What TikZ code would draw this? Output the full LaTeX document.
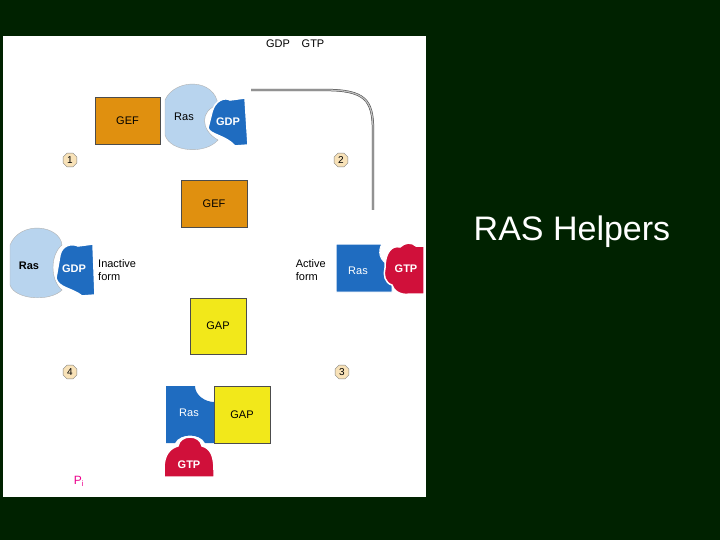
\documentclass[tikz,border=0pt]{standalone}
\usepackage{fontspec}
\setmainfont{Liberation Sans}
\usetikzlibrary{arrows.meta,shapes.geometric}
\definecolor{bg}{HTML}{002200}
\definecolor{gef}{HTML}{E0900F}
\definecolor{lblue}{HTML}{B8D4EE}
\definecolor{dblue}{HTML}{1F6CC0}
\definecolor{gtpred}{HTML}{D0103A}
\definecolor{gapy}{HTML}{F2E81A}
\definecolor{numc}{HTML}{F8E2B8}
\tikzset{
 path/.style={draw=black!75,double=black!25,line width=0.5pt,double distance=1.3pt},
 tip/.style={-{Triangle[open,length=7pt,width=7pt,fill=white]}},
 box/.style={draw=black!70,line width=0.8pt,minimum width=#1,inner sep=0pt,font=\fontsize{11}{11}\selectfont},
 num/.style={regular polygon,regular polygon sides=8,fill=numc,draw=black!50,minimum size=15pt,inner sep=0pt,font=\fontsize{10}{10}\selectfont},
 lbl/.style={font=\fontsize{11}{13}\selectfont,align=left,inner sep=0pt},
 wtxt/.style={text=white,font=\bfseries\fontsize{11}{11}\selectfont}
}
\begin{document}
\begin{tikzpicture}[x=1pt,y=-1pt]
\fill[bg] (0,0) rectangle (720,540);
\useasboundingbox (0,0) rectangle (720,540);
\fill[white] (3,36) rectangle (426,497);
\node[text=white,font=\fontsize{34}{34}\selectfont] (title) at (572,232) {RAS Helpers};
% top complex
\node[box=65pt,minimum height=47pt,fill=gef] (gef1) at (127.5,120.5) {GEF};
\fill[lblue,draw=black!30] (165,100) .. controls (175,78) and (215,78) .. (218,105) .. controls (200,110) and (200,130) .. (218,140) .. controls (205,155) and (170,152) .. (165,135) -- cycle;
\node[font=\fontsize{11}{11}\selectfont] (ras1) at (184,117) {Ras};
\fill[dblue,draw=white,line width=1.5pt] (212,112) .. controls (215,100) and (225,97) .. (230,100) -- (245,98) -- (248,145) -- (235,146) .. controls (225,135) and (210,135) .. (208,128) -- cycle;
\node[wtxt] (gdp1) at (228,122) {GDP};
\node[box=66pt,minimum height=47pt,fill=gef] (gef2) at (214,203.5) {GEF};
% left inactive
\fill[lblue,draw=black!30] (10,245) .. controls (20,220) and (60,225) .. (62,245) .. controls (50,255) and (50,280) .. (62,290) .. controls (50,302) and (15,300) .. (10,285) -- cycle;
\node[font=\bfseries\fontsize{11}{11}\selectfont] (ras2) at (29,266) {Ras};
\fill[dblue,draw=white,line width=1.5pt] (60,255) .. controls (62,245) and (72,243) .. (78,246) -- (93,244) -- (95,295) -- (82,296) .. controls (72,288) and (58,288) .. (56,278) -- cycle;
\node[wtxt] (gdp2) at (74,269) {GDP};
\node[lbl,anchor=west] (inact) at (98,270) {Inactive\\form};
% right active
\fill[dblue,draw=white,line width=1pt] (336,244) -- (382,244) .. controls (378,250) and (378,262) .. (392,266) -- (392,292) -- (336,292) -- cycle;
\node[wtxt,font=\fontsize{11}{11}\selectfont] (ras3) at (358,271) {Ras};
\fill[gtpred,draw=white,line width=1.5pt] (385,268) .. controls (385,252) and (392,245) .. (400,247) .. controls (405,242) and (412,242) .. (416,246) -- (424,246) -- (424,294) -- (410,294) .. controls (400,296) and (393,290) .. (392,285) .. controls (385,283) and (383,275) .. (385,268) -- cycle;
\node[wtxt] (gtp1) at (406,269) {GTP};
\node[lbl,anchor=east] (act) at (326,270) {Active\\form};
% GAP
\node[box=56pt,minimum height=56pt,fill=gapy] (gap1) at (218,326) {GAP};
% lower complex
\node[box=56pt,minimum height=57pt,fill=gapy] (gap2) at (242,414.5) {GAP};
\fill[dblue] (166,386) -- (195,386) .. controls (195,395) and (205,402) .. (214,402) -- (214,443) -- (205,443) .. controls (200,433) and (180,433) .. (175,443) -- (166,443) -- cycle;
\node[wtxt,font=\fontsize{11}{11}\selectfont] (ras4) at (189,413) {Ras};
\fill[gtpred,draw=white,line width=1.5pt] (178,446) .. controls (180,434) and (200,434) .. (202,446) .. controls (210,448) and (214,455) .. (214,470) -- (214,477) -- (164,477) -- (164,468) .. controls (164,455) and (170,448) .. (178,446) -- cycle;
\node[wtxt] (gtp2) at (189,465) {GTP};
% numbers
\node[num] (n1) at (70,160) {1};
\node[num] (n2) at (341,160) {2};
\node[num] (n3) at (342,372) {3};
\node[num] (n4) at (70,372) {4};
% labels GDP GTP Pi
\node[font=\fontsize{11}{11}\selectfont] (gdpt) at (278,44) {GDP};
\node[font=\fontsize{11}{11}\selectfont] (gtpt) at (313,44) {GTP};
\node[text=magenta,font=\fontsize{12}{12}\selectfont] (pi) at (79,481) {P$_{\mathrm{i}}$};
% coordinates
\coordinate (a1) at (40,222);
\coordinate (a2) at (92,90);
\coordinate (b1) at (251,90);
\coordinate (b2) at (373,240);
\coordinate (c1) at (175,172);
\coordinate (c2) at (258,172);
\coordinate (d1) at (373,300);
\coordinate (d2) at (282,146);
% paths (y measured)
\draw[path] (251,90) -- (325,90) .. controls (365,90) and (373,100) .. (373,130) -- (373,210);
% redo with correct y positions
\end{tikzpicture}
\end{document}
